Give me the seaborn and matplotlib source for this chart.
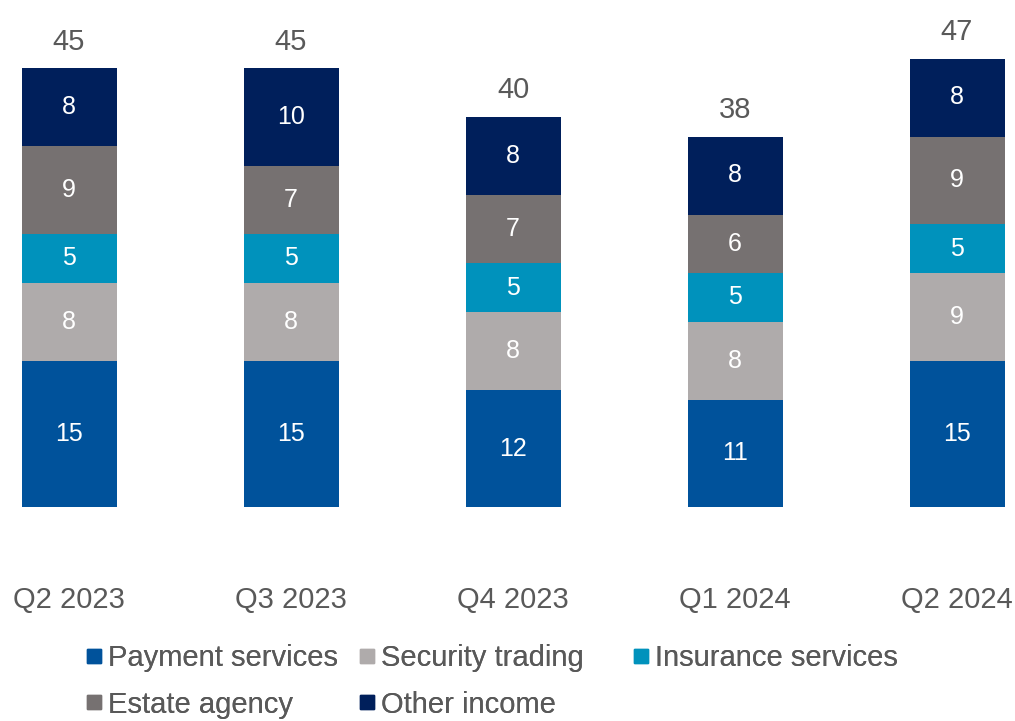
import matplotlib
matplotlib.use("Agg")
import matplotlib.pyplot as plt
from matplotlib.lines import Line2D
import numpy as np
import pandas as pd
import seaborn as sns

quarters = ["Q2 2023", "Q3 2023", "Q4 2023", "Q1 2024", "Q2 2024"]
segments = ["Payment services", "Security trading", "Insurance services",
            "Estate agency", "Other income"]
payment_services = [15, 15, 12, 11, 15]
security_trading = [8, 8, 8, 8, 9]
insurance_services = [5, 5, 5, 5, 5]
estate_agency = [9, 7, 7, 6, 9]
other_income = [8, 10, 8, 8, 8]
totals = [45, 45, 40, 38, 47]

colors = ["#00529B", "#AFABAB", "#0092BC", "#767171", "#001F5B"]
text_grey = "#595959"

sns.set_theme(style="white")
plt.rcParams["font.family"] = ["Liberation Sans", "DejaVu Sans"]

values = np.array([payment_services, security_trading, insurance_services,
                   estate_agency, other_income], dtype=float)
cum = np.cumsum(values, axis=0)

fig = plt.figure(figsize=(10.15, 7.21), dpi=100)
ax = fig.add_axes([0, 214 / 721, 1, 507 / 721])

# Stacked bars: draw cumulative heights from the top segment down
for i in range(len(segments) - 1, -1, -1):
    df = pd.DataFrame({"quarter": quarters, "value": cum[i]})
    sns.barplot(data=df, x="quarter", y="value", color=colors[i],
                width=0.428, saturation=1, ax=ax, edgecolor="none",
                linewidth=0)

# Segment labels
for i in range(len(segments)):
    for j in range(len(quarters)):
        ymid = cum[i, j] - values[i, j] / 2
        ax.text(j, ymid, f"{int(values[i, j])}", ha="center", va="center",
                color="white", fontsize=18)

# Totals above each stack
for j, t in enumerate(totals):
    ax.annotate(f"{t}", (j, cum[-1, j]), xytext=(0, 9),
                textcoords="offset points", ha="center", va="bottom",
                color=text_grey, fontsize=21)

ax.set_xlim(-0.311, 4.261)
ax.set_ylim(0, 52)
ax.set_xlabel("")
ax.set_ylabel("")
ax.set_yticks([])
ax.tick_params(axis="x", length=0, pad=57, labelsize=21, labelcolor=text_grey)
for s in ax.spines.values():
    s.set_visible(False)

# Legend laid out in three equal-width columns
handles = [Line2D([], [], marker="s", linestyle="none", markersize=10,
                  markerfacecolor=c, markeredgecolor=c) for c in colors]
columns = [[0, 3], [1, 4], [2]]
col_x = [87, 360, 634]
for cols, x in zip(columns, col_x):
    leg = fig.legend([handles[k] for k in cols], [segments[k] for k in cols],
                     loc="upper left", bbox_to_anchor=(x / 1015, 0.107),
                     frameon=False, fontsize=21, labelcolor=text_grey,
                     handlelength=0.5, handletextpad=0.22, labelspacing=0.64,
                     borderpad=0, borderaxespad=0)
    fig.add_artist(leg)

fig.savefig("out.png", dpi=100)
